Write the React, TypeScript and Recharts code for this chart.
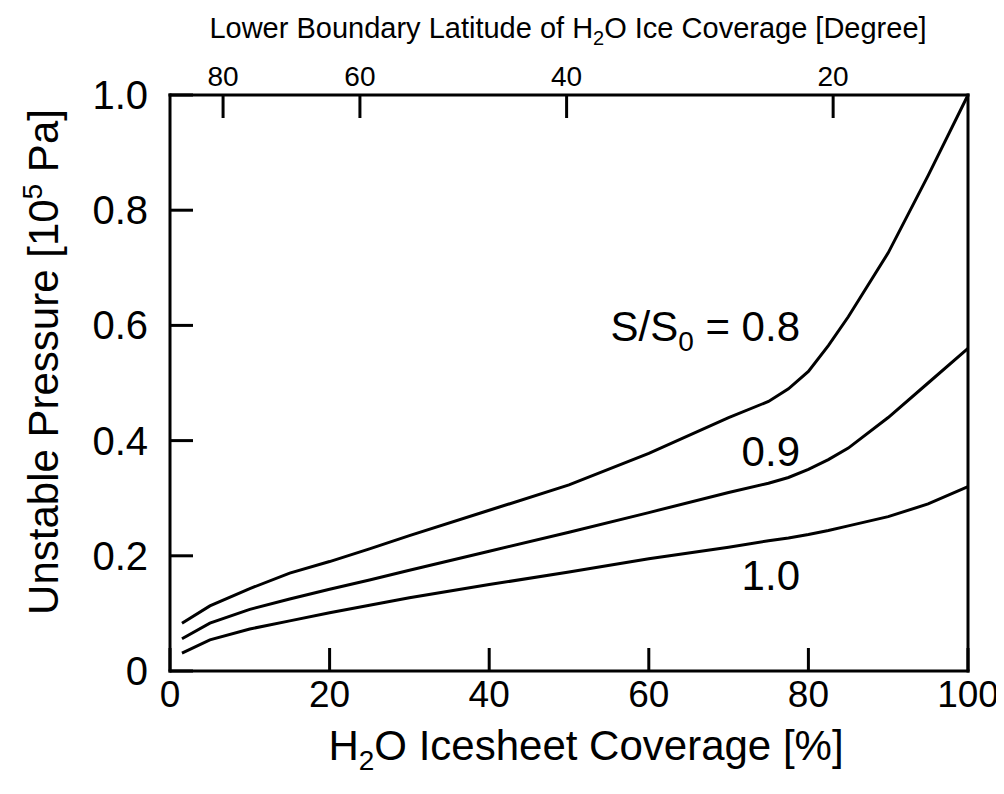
import React from "react";
import {
  LineChart,
  Line,
  XAxis,
  YAxis,
  Customized,
} from "recharts";

// H2O icesheet coverage [%]
const COVERAGE = [1.5, 5, 10, 15, 20, 25, 30, 40, 50, 60, 70, 75, 77.5, 80, 82.5, 85, 90, 95, 100];

// unstable pressure [1e5 Pa] for each S/S0
const P_S08 = [0.083, 0.113, 0.143, 0.17, 0.19, 0.212, 0.235, 0.279, 0.323, 0.378, 0.44, 0.468, 0.49, 0.52, 0.565, 0.615, 0.726, 0.86, 1.0];
const P_S09 = [0.056, 0.083, 0.107, 0.125, 0.142, 0.158, 0.175, 0.208, 0.241, 0.275, 0.31, 0.326, 0.336, 0.35, 0.367, 0.387, 0.44, 0.5, 0.56];
const P_S10 = [0.031, 0.054, 0.073, 0.087, 0.101, 0.114, 0.127, 0.15, 0.172, 0.195, 0.215, 0.226, 0.231, 0.237, 0.244, 0.252, 0.268, 0.29, 0.32];

const X_TICKS = [0, 20, 40, 60, 80, 100];
const Y_TICKS = [0, 0.2, 0.4, 0.6, 0.8, 1.0];
const Y_TICK_LABELS = ["0", "0.2", "0.4", "0.6", "0.8", "1.0"];

// top axis: lower boundary latitude, placed at the matching coverage
const LAT_TICK_POS = [6.65, 23.8, 49.7, 83.1];
const LAT_TICK_LABELS = ["80", "60", "40", "20"];

const data = COVERAGE.map((c, i) => ({
  cov: c,
  s08: P_S08[i],
  s09: P_S09[i],
  s10: P_S10[i],
}));

const FONT = '"Liberation Sans", Arial, Helvetica, sans-serif';
const AXIS_LINE = { stroke: "#000", strokeWidth: 3, strokeLinecap: "square" as const };
const TICK_LEN = 23;
const BIG = 42;

function BottomTick({ x, y, payload }: any) {
  return (
    <g>
      <line x1={x} x2={x} y1={y} y2={y - TICK_LEN} stroke="#000" strokeWidth={3} />
      <text x={x} y={y + 36} textAnchor="middle" fontSize={37} fontFamily={FONT} fill="#000">
        {payload.value}
      </text>
    </g>
  );
}

function TopTick({ x, y, payload }: any) {
  const idx = LAT_TICK_POS.indexOf(payload.value);
  return (
    <g>
      <line x1={x} x2={x} y1={y} y2={y + TICK_LEN} stroke="#000" strokeWidth={3} />
      <text x={x} y={y - 9} textAnchor="middle" fontSize={28} fontFamily={FONT} fill="#000">
        {LAT_TICK_LABELS[idx]}
      </text>
    </g>
  );
}

function LeftTick({ x, y, payload }: any) {
  const idx = Y_TICKS.indexOf(payload.value);
  return (
    <g>
      <line x1={x} x2={x + TICK_LEN} y1={y} y2={y} stroke="#000" strokeWidth={3} />
      <text x={x - 22} y={y + 14} textAnchor="end" fontSize={40} fontFamily={FONT} fill="#000">
        {Y_TICK_LABELS[idx]}
      </text>
    </g>
  );
}

function RightTick({ x, y }: any) {
  return <line x1={x} x2={x - TICK_LEN} y1={y} y2={y} stroke="#000" strokeWidth={3} />;
}

function Texts() {
  return (
    <g fontFamily={FONT} fill="#000">
      <text x={560} y={30} textAnchor="middle" fontSize={29}>
        Lower Boundary Latitude of H
        <tspan fontSize={20} dy={7}>2</tspan>
        <tspan dy={-7}>O Ice Coverage [Degree]</tspan>
      </text>
      <text x={578} y={752} textAnchor="middle" fontSize={BIG}>
        H
        <tspan fontSize={28} dy={10}>2</tspan>
        <tspan dy={-10}>O Icesheet Coverage [%]</tspan>
      </text>
      <text x={50} y={354} textAnchor="middle" fontSize={BIG} transform="rotate(-90 50 354)">
        Unstable Pressure [10
        <tspan fontSize={28} dy={-16}>5</tspan>
        <tspan dy={16}> Pa]</tspan>
      </text>
      <text x={792} y={333} textAnchor="end" fontSize={BIG}>
        S/S
        <tspan fontSize={28} dy={10}>0</tspan>
        <tspan dy={-10}> = 0.8</tspan>
      </text>
      <text x={792} y={458} textAnchor="end" fontSize={BIG}>0.9</text>
      <text x={792} y={582} textAnchor="end" fontSize={BIG}>1.0</text>
    </g>
  );
}

export default function App() {
  return (
    <div style={{ width: 996, height: 786, background: "#fff" }}>
      <LineChart
        width={996}
        height={786}
        data={data}
        margin={{ top: 86, right: 35, bottom: 122, left: 161 }}
      >
        <XAxis
          xAxisId="bottom"
          dataKey="cov"
          type="number"
          domain={[0, 100]}
          ticks={X_TICKS}
          interval={0}
          height={1}
          tickSize={0}
          tickMargin={0}
          tickLine={false}
          axisLine={AXIS_LINE}
          tick={<BottomTick />}
        />
        <XAxis
          xAxisId="top"
          orientation="top"
          dataKey="cov"
          type="number"
          domain={[0, 100]}
          ticks={LAT_TICK_POS}
          interval={0}
          height={1}
          tickSize={0}
          tickMargin={0}
          tickLine={false}
          axisLine={AXIS_LINE}
          tick={<TopTick />}
        />
        <YAxis
          yAxisId="left"
          type="number"
          domain={[0, 1]}
          ticks={Y_TICKS}
          interval={0}
          width={1}
          tickSize={0}
          tickMargin={0}
          tickLine={false}
          axisLine={AXIS_LINE}
          tick={<LeftTick />}
        />
        <YAxis
          yAxisId="right"
          orientation="right"
          type="number"
          domain={[0, 1]}
          ticks={Y_TICKS}
          interval={0}
          width={1}
          tickSize={0}
          tickMargin={0}
          tickLine={false}
          axisLine={AXIS_LINE}
          tick={<RightTick />}
        />
        <Line xAxisId="bottom" yAxisId="left" dataKey="s08" type="linear" stroke="#000" strokeWidth={3} dot={false} isAnimationActive={false} />
        <Line xAxisId="bottom" yAxisId="left" dataKey="s09" type="linear" stroke="#000" strokeWidth={3} dot={false} isAnimationActive={false} />
        <Line xAxisId="bottom" yAxisId="left" dataKey="s10" type="linear" stroke="#000" strokeWidth={3} dot={false} isAnimationActive={false} />
        <Customized component={Texts} />
      </LineChart>
    </div>
  );
}
